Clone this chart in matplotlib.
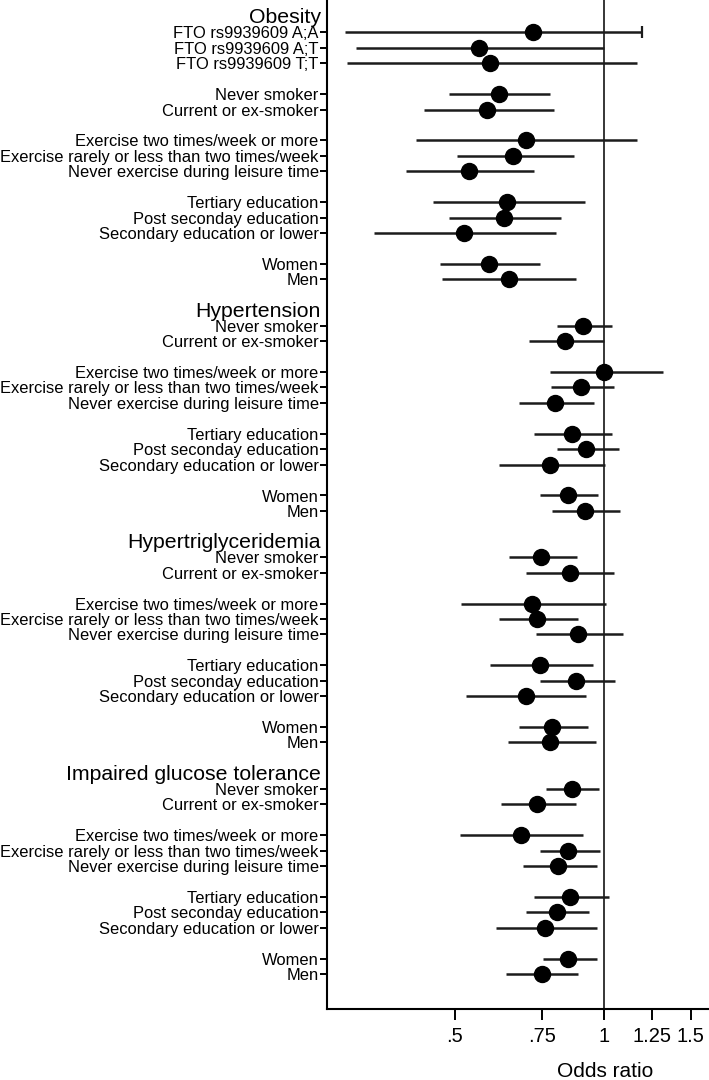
import matplotlib
matplotlib.use("Agg")
import matplotlib.pyplot as plt
import matplotlib.transforms as mtransforms
from matplotlib.ticker import FixedLocator, NullLocator, FixedFormatter

plt.rcParams['font.family'] = ['Liberation Sans', 'DejaVu Sans']

# ---------------- data ----------------
outcomes = ["Obesity", "Hypertension", "Hypertriglyceridemia", "Impaired glucose tolerance"]

fto_labels = ["FTO rs9939609 A;A", "FTO rs9939609 A;T", "FTO rs9939609 T;T"]
smoking_labels = ["Never smoker", "Current or ex-smoker"]
exercise_labels = ["Exercise two times/week or more",
                   "Exercise rarely or less than two times/week",
                   "Never exercise during leisure time"]
education_labels = ["Tertiary education", "Post seconday education",
                    "Secondary education or lower"]
sex_labels = ["Women", "Men"]

# Obesity: FTO(3), smoking(2), exercise(3), education(3), sex(2)
obesity_or = [0.721, 0.560, 0.590, 0.614, 0.581, 0.695, 0.657, 0.534, 0.638, 0.628, 0.522, 0.586, 0.643]
obesity_lo = [0.300, 0.316, 0.303, 0.486, 0.434, 0.418, 0.506, 0.399, 0.451, 0.486, 0.344, 0.466, 0.472]
obesity_hi = [1.193, 1.000, 1.168, 0.779, 0.795, 1.168, 0.871, 0.724, 0.915, 0.819, 0.802, 0.744, 0.878]

# Other outcomes: smoking(2), exercise(3), education(3), sex(2)
hypertension_or = [0.910, 0.835, 1.003, 0.901, 0.797, 0.863, 0.921, 0.778, 0.847, 0.915]
hypertension_lo = [0.804, 0.707, 0.779, 0.784, 0.675, 0.723, 0.805, 0.613, 0.744, 0.786]
hypertension_hi = [1.038, 1.000, 1.316, 1.051, 0.956, 1.038, 1.076, 1.005, 0.974, 1.081]

hypertrig_or = [0.748, 0.854, 0.715, 0.732, 0.887, 0.744, 0.879, 0.695, 0.786, 0.778]
hypertrig_lo = [0.643, 0.698, 0.515, 0.614, 0.730, 0.590, 0.743, 0.526, 0.675, 0.640]
hypertrig_hi = [0.883, 1.051, 1.011, 0.887, 1.096, 0.950, 1.056, 0.923, 0.928, 0.966]

igt_or = [0.862, 0.733, 0.679, 0.847, 0.809, 0.855, 0.804, 0.761, 0.848, 0.751]
igt_lo = [0.764, 0.619, 0.513, 0.744, 0.688, 0.724, 0.698, 0.606, 0.753, 0.635]
igt_hi = [0.979, 0.877, 0.907, 0.982, 0.969, 1.025, 0.936, 0.969, 0.969, 0.889]

# upper CI end drawn with a cap (Obesity, FTO A;A)
capped_upper = [("Obesity", 0)]

xtick_values = [0.5, 0.75, 1, 1.25, 1.5]
xtick_labels = [".5", ".75", "1", "1.25", "1.5"]
x_title = "Odds ratio"

# ---------------- layout ----------------
W, H = 709, 1080
fig = plt.figure(figsize=(W / 100, H / 100), dpi=100)
ax_left_px, ax_bottom_px = 327, 1009
ax = fig.add_axes([ax_left_px / W, 1 - ax_bottom_px / H, 1 - ax_left_px / W, ax_bottom_px / H])

blocks = [
    ("Obesity", [fto_labels, smoking_labels, exercise_labels, education_labels, sex_labels],
     obesity_or, obesity_lo, obesity_hi),
    ("Hypertension", [smoking_labels, exercise_labels, education_labels, sex_labels],
     hypertension_or, hypertension_lo, hypertension_hi),
    ("Hypertriglyceridemia", [smoking_labels, exercise_labels, education_labels, sex_labels],
     hypertrig_or, hypertrig_lo, hypertrig_hi),
    ("Impaired glucose tolerance", [smoking_labels, exercise_labels, education_labels, sex_labels],
     igt_or, igt_lo, igt_hi),
]

row = 0
tick_pos, tick_lab = [], []
headers = []
line_col = '#1c1c1c'
for name, groups, ors, los, his in blocks:
    headers.append((name, row))
    row += 1
    k = 0
    for g in groups:
        for lab in g:
            y = -row
            ax.hlines(y, los[k], his[k], color=line_col, lw=1.8, zorder=2)
            if (name, k) in capped_upper:
                ax.plot([his[k]], [y], marker='|', ms=8, mew=1.6, color=line_col, zorder=2)
            ax.plot([ors[k]], [y], 'o', ms=11.5, color='black', zorder=3)
            tick_pos.append(y)
            tick_lab.append(lab)
            k += 1
            row += 1
        row += 1

ax.axvline(1, color='black', lw=1.1, zorder=1)

ax.set_xscale('log')
x_left = 0.276
x_right = 1.632
ax.set_xlim(x_left, x_right)
px_per_row = (974 - 17) / 62.0
ax.set_ylim(-(ax_bottom_px - 17) / px_per_row, 17 / px_per_row)

ax.xaxis.set_major_locator(FixedLocator(xtick_values))
ax.xaxis.set_major_formatter(FixedFormatter(xtick_labels))
ax.xaxis.set_minor_locator(NullLocator())
ax.set_yticks(tick_pos)
ax.set_yticklabels(tick_lab)
ax.yaxis.set_minor_locator(NullLocator())

ax.tick_params(axis='x', length=8, width=1.4, labelsize=14.5, pad=5)
ax.tick_params(axis='y', length=5, width=1.4, labelsize=11.9, pad=1)

for s in ['top', 'right']:
    ax.spines[s].set_visible(False)
for s in ['left', 'bottom']:
    ax.spines[s].set_linewidth(1.5)

trans = mtransforms.blended_transform_factory(ax.transAxes, ax.transData)
hx = (321 - ax_left_px) / (W - ax_left_px)
for name, r in headers:
    ax.text(hx, -(r + 0.42), name, transform=trans, ha='right', va='baseline',
            fontsize=15.3, clip_on=False)

fig.text(605 / W, 1 - 1077 / H, x_title, ha='center', va='baseline', fontsize=15)

fig.savefig("out.png", dpi=100)
